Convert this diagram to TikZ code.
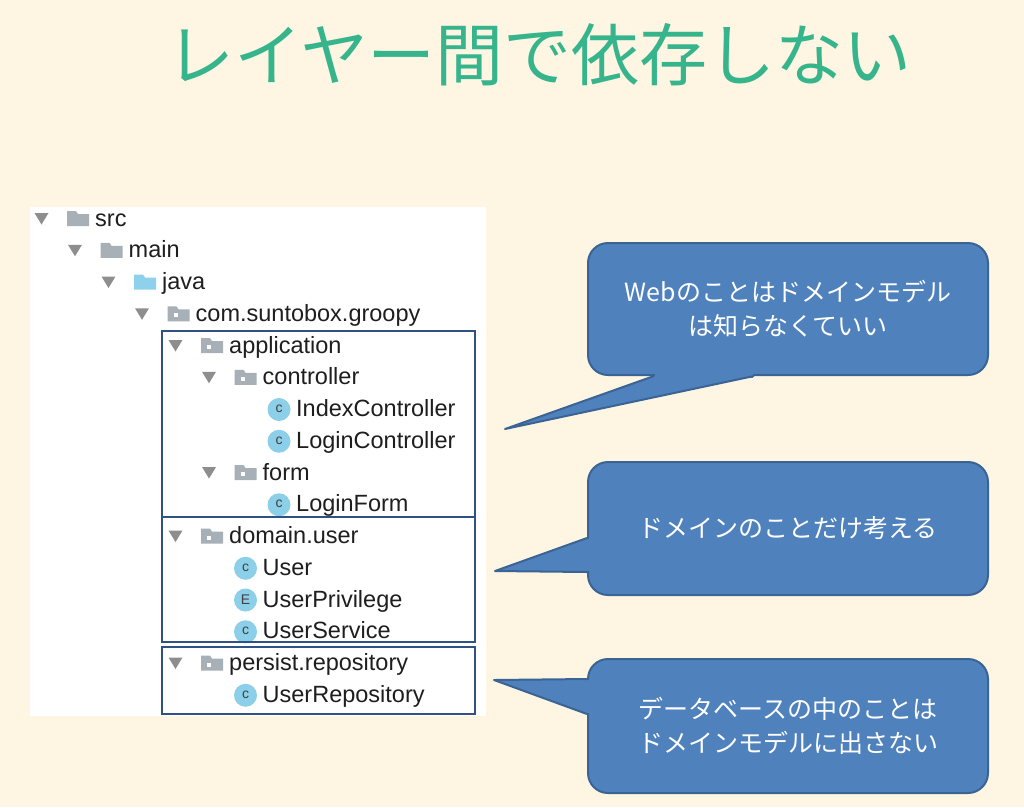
\documentclass[tikz,border=0pt]{standalone}
\usepackage{fontspec}
\setmainfont{Liberation Sans}
\newfontfamily\jpfont{Noto Sans CJK JP}
\usetikzlibrary{positioning,calc}
\definecolor{bgcream}{HTML}{FEF5E3}
\definecolor{titlegreen}{HTML}{36B58C}
\definecolor{layeredge}{HTML}{2F5283}
\definecolor{calloutblue}{HTML}{4F81BD}
\definecolor{calloutedge}{HTML}{3A6494}
\definecolor{foldergray}{HTML}{A8B0B7}
\definecolor{javablue}{HTML}{8ED1EC}
\definecolor{classblue}{HTML}{8CCFE8}
\definecolor{twistygray}{HTML}{8E8E8E}
\definecolor{treetext}{HTML}{1E1E1E}

\begin{document}
\begin{tikzpicture}[
    x=1pt, y=-1pt,
    item/.style={anchor=base west, inner sep=0pt, text=treetext, font=\fontsize{23.5}{26}\selectfont},
    layer/.style={draw=layeredge, line width=2.6pt, rectangle, inner sep=0pt, minimum width=313pt},
    note/.style={draw=calloutedge, line width=2pt, fill=calloutblue, rounded corners=20pt, minimum width=400pt, align=center, text=white, font=\jpfont\fontsize{25}{34}\selectfont},
    pics/twisty/.style={code={\fill[twistygray] (-7,-13) -- (7,-13) -- (0,-1.5) -- cycle;}},
    pics/folder/.style={code={\fill[#1] (0,0) -- (0,-15) -- (9,-15) -- (11,-12) -- (22,-12) -- (22,0) -- cycle;}},
    pics/folder/.default=foldergray,
    pics/pkg/.style={code={\pic {folder}; \fill[white] (6,-8) rectangle (10,-4);}},
    pics/cls/.style={code={\fill[classblue] (11,-7) circle[radius=11.5pt]; \node[text=treetext!85, font=\fontsize{14}{14}\selectfont, inner sep=0pt] at (11,-7.5) {#1};}},
    pics/cls/.default=c
]
    \fill[bgcream] (0,0) rectangle (1024,807);
    \node[font=\jpfont\fontsize{68}{70}\selectfont, text=titlegreen] (title) at (539,55) {レイヤー間で依存しない};

    % project tree
    \fill[white] (30,207) rectangle (486,716);
    \pic at (41.5,226) {twisty};   \pic at (67,226) {folder};          \node[item] (src) at (95,226) {src};
    \pic at (75,257.75) {twisty};  \pic at (100.5,257.75) {folder};    \node[item] (main) at (128.5,257.75) {main};
    \pic at (108.5,289.5) {twisty}; \pic at (134,289.5) {folder=javablue}; \node[item] (java) at (162,289.5) {java};
    \pic at (142,321.25) {twisty}; \pic at (167.5,321.25) {pkg};       \node[item] (groopy) at (195.5,321.25) {com.suntobox.groopy};
    \pic at (175.5,353) {twisty};  \pic at (201,353) {pkg};            \node[item] (application) at (229,353) {application};
    \pic at (209,384.75) {twisty}; \pic at (234.5,384.75) {pkg};       \node[item] (controller) at (262.5,384.75) {controller};
    \pic at (268,416.5) {cls};     \node[item] (indexctl) at (296,416.5) {IndexController};
    \pic at (268,448.25) {cls};    \node[item] (loginctl) at (296,448.25) {LoginController};
    \pic at (209,480) {twisty};    \pic at (234.5,480) {pkg};          \node[item] (form) at (262.5,480) {form};
    \pic at (268,511.75) {cls};    \node[item] (loginform) at (296,511.75) {LoginForm};
    \pic at (175.5,543.5) {twisty}; \pic at (201,543.5) {pkg};         \node[item] (domainuser) at (229,543.5) {domain.user};
    \pic at (234.5,575.25) {cls};  \node[item] (user) at (262.5,575.25) {User};
    \pic at (234.5,607) {cls=E};   \node[item] (userpriv) at (262.5,607) {UserPrivilege};
    \pic at (234.5,638.75) {cls};  \node[item] (userservice) at (262.5,638.75) {UserService};
    \pic at (175.5,670.5) {twisty}; \pic at (201,670.5) {pkg};         \node[item] (persist) at (229,670.5) {persist.repository};
    \pic at (234.5,702.25) {cls};  \node[item] (userrepo) at (262.5,702.25) {UserRepository};

    % layers
    \node[layer, minimum height=186pt] (applayer) at (318.5,424) {};
    \node[layer, minimum height=125pt] (domainlayer) at (318.5,579.5) {};
    \node[layer, minimum height=67pt] (persistlayer) at (318.5,680.5) {};

    % callouts
    \node[note, minimum height=132pt] (webnote) at (788,309) {Webのことはドメインモデル\\は知らなくていい};
    \node[note, minimum height=133pt] (domainnote) at (788,528.5) {ドメインのことだけ考える};
    \node[note, minimum height=134pt] (dbnote) at (788,726) {データベースの中のことは\\ドメインモデルに出さない};

    \coordinate (webtip) at (505,429);
    \coordinate (weba) at ($(webnote.south west)+(67,0)$);
    \coordinate (webb) at ($(webnote.south west)+(167,0)$);
    \fill[calloutblue] (weba) -- (webtip) -- (webb) -- cycle;
    \fill[calloutblue] ($(weba)+(1,-3)$) rectangle ($(webb)+(-1,2)$);
    \draw[calloutedge, line width=2pt, line join=round] (weba) -- (webtip) -- (webb);

    \coordinate (domaintip) at (495,571);
    \coordinate (domaina) at ($(domainnote.north west)+(0,77)$);
    \coordinate (domainb) at ($(domainnote.north west)+(0,111)$);
    \fill[calloutblue] (domaina) -- (domaintip) -- (domainb) -- cycle;
    \fill[calloutblue] ($(domaina)+(-2,1)$) rectangle ($(domainb)+(3,-1)$);
    \draw[calloutedge, line width=2pt, line join=round] (domaina) -- (domaintip) -- (domainb);

    \coordinate (dbtip) at (494,680);
    \coordinate (dba) at ($(dbnote.north west)+(0,21)$);
    \coordinate (dbb) at ($(dbnote.north west)+(0,56)$);
    \fill[calloutblue] (dba) -- (dbtip) -- (dbb) -- cycle;
    \fill[calloutblue] ($(dba)+(-2,1)$) rectangle ($(dbb)+(3,-1)$);
    \draw[calloutedge, line width=2pt, line join=round] (dba) -- (dbtip) -- (dbb);
\end{tikzpicture}
\end{document}
